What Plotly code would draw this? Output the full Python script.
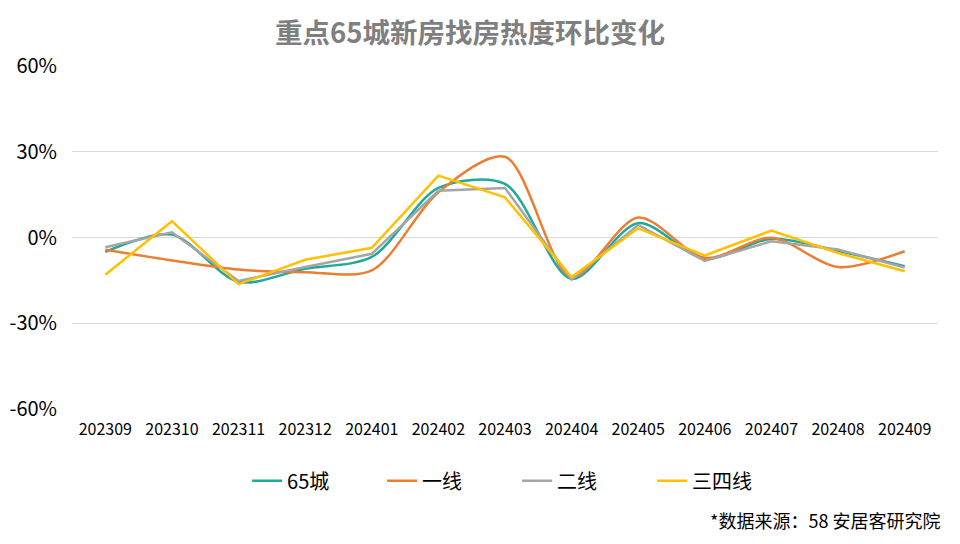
import plotly.graph_objects as go

months = ["202309", "202310", "202311", "202312", "202401", "202402", "202403",
          "202404", "202405", "202406", "202407", "202408", "202409"]
city65 = [-5.0, 1.0, -15.5, -10.9, -6.8, 17.3, 18.7, -14.4, 5.0, -7.4, -0.5, -4.7, -10.0]
tier1 = [-4.3, -8.0, -11.2, -12.1, -11.5, 15.8, 28.2, -13.8, 7.0, -7.1, -0.1, -10.3, -4.8]
tier2 = [-3.4, 1.8, -15.2, -10.3, -5.7, 16.3, 17.3, -14.7, 4.4, -8.2, -1.3, -4.2, -10.5]
tier34 = [-13.0, 5.7, -16.3, -7.8, -3.6, 21.6, 14.0, -13.8, 3.2, -6.3, 2.4, -5.4, -11.8]

series = [
    ("65城", city65, "#1FA99A", "spline"),
    ("一线", tier1, "#ED7D31", "spline"),
    ("二线", tier2, "#A5A5A5", "linear"),
    ("三四线", tier34, "#FFC000", "linear"),
]

FONT = "Noto Sans CJK SC, Microsoft YaHei, sans-serif"

fig = go.Figure()
for name, vals, color, shape in series:
    fig.add_trace(go.Scatter(
        x=months, y=vals, name=name, mode="lines",
        line=dict(color=color, width=2.5, shape=shape, smoothing=0.85),
    ))

# page body has an 8px margin, so the figure is sized/offset to compensate
fig.update_layout(
    width=952, height=536,
    paper_bgcolor="white", plot_bgcolor="white",
    margin=dict(l=64, r=22, t=57, b=134),
    font=dict(family=FONT, color="#000000"),
    title=dict(text="<b>重点65城新房找房热度环比变化</b>", x=0.4853, xref="container",
               xanchor="center", y=0.9534, yref="container", yanchor="middle",
               font=dict(size=27.5, color="#7F7F7F", family=FONT)),
    xaxis=dict(type="category", showgrid=False, showline=False, zeroline=False,
               tickfont=dict(size=16, color="#000000"), ticks="", ticklabelstandoff=8,
               range=[-0.5, 12.5], automargin=False),
    yaxis=dict(range=[-60.25, 60.25], tickvals=[-60, -30, 0, 30, 60],
               ticktext=["-60%", "-30%", "0%", "30%", "60%"],
               showgrid=True, gridcolor="#D9D9D9", gridwidth=1,
               zeroline=False, showline=False, automargin=False,
               tickfont=dict(size=20, color="#000000"), ticklabelstandoff=14),
    legend=dict(orientation="h", x=0.514, xanchor="center", y=-0.205, yanchor="middle",
                font=dict(size=20, color="#000000"), entrywidth=90,
                entrywidthmode="pixels"),
    annotations=[dict(text="*数据来源：58 安居客研究院", xref="paper", yref="paper",
                      x=1.0046, y=-0.319, xanchor="right", yanchor="middle",
                      showarrow=False, font=dict(size=18, color="#000000"))],
)

fig.write_html("out.html")
